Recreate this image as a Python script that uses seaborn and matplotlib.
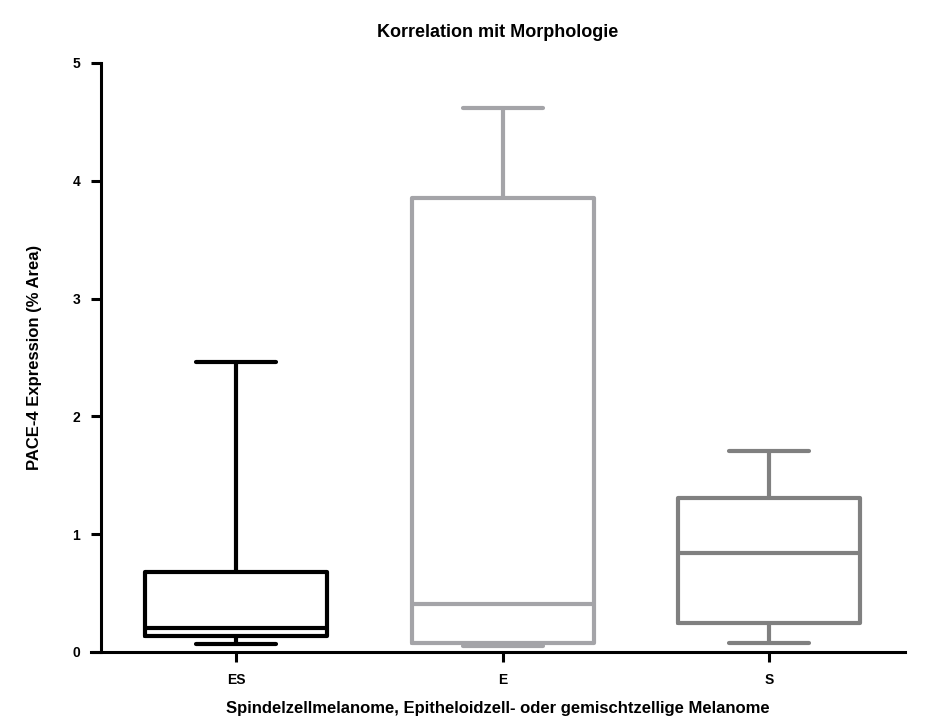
import pandas as pd
import matplotlib
matplotlib.use("Agg")
import matplotlib.pyplot as plt
import seaborn as sns

# ==========================================================
# DATA (five-number summaries: min, q1, median, q3, max)
# ==========================================================
groups = ["ES", "E", "S"]
es_values = [0.065, 0.135, 0.20, 0.68, 2.46]
e_values = [0.05, 0.08, 0.41, 3.85, 4.62]
s_values = [0.074, 0.244, 0.838, 1.31, 1.706]
colors = ["#000000", "#a4a4a8", "#808080"]

df = pd.DataFrame({
    "gruppe": ["ES"] * len(es_values) + ["E"] * len(e_values) + ["S"] * len(s_values),
    "wert": es_values + e_values + s_values,
})

# ==========================================================
# PLOT
# ==========================================================
sns.set_style("white")
plt.rcParams["font.family"] = ["Liberation Sans", "DejaVu Sans"]
plt.rcParams["font.weight"] = "bold"
plt.rcParams["text.color"] = "black"
plt.rcParams["axes.labelcolor"] = "black"
plt.rcParams["xtick.color"] = "black"
plt.rcParams["ytick.color"] = "black"

fig = plt.figure(figsize=(9.26, 7.22), dpi=100)
ax = fig.add_axes([0.0983, 0.0970, 0.879, 0.8158])

sns.boxplot(
    data=df, x="gruppe", y="wert", hue="gruppe", order=groups, hue_order=groups,
    palette=colors, legend=False, fill=False, whis=(0, 100), width=0.683,
    linewidth=3, capwidths=0.3, showfliers=False, ax=ax,
)

ax.set_xlim(-0.544, 2.51)
ax.set_ylim(0, 5)
ax.set_yticks([0, 1, 2, 3, 4, 5])

for side in ["top", "right"]:
    ax.spines[side].set_visible(False)
ax.spines["left"].set_position(("data", -0.507))
for side in ["left", "bottom"]:
    ax.spines[side].set_linewidth(2.2)
    ax.spines[side].set_color("black")

ax.tick_params(axis="both", which="major", bottom=True, left=True, direction="out",
               length=7, width=2.2, color="black", labelcolor="black",
               labelsize=10, pad=8)
for lbl in ax.get_xticklabels() + ax.get_yticklabels():
    lbl.set_fontweight("bold")

ax.set_title("Korrelation mit Morphologie", fontsize=13, fontweight="bold",
             color="black", pad=19)
ax.set_xlabel("Spindelzellmelanome, Epitheloidzell- oder gemischtzellige Melanome",
              fontsize=12, fontweight="bold", color="black", labelpad=10)
ax.set_ylabel("PACE-4 Expression (% Area)", fontsize=12, fontweight="bold",
              color="black", labelpad=22)

fig.savefig("out.png", dpi=100, facecolor="white")
